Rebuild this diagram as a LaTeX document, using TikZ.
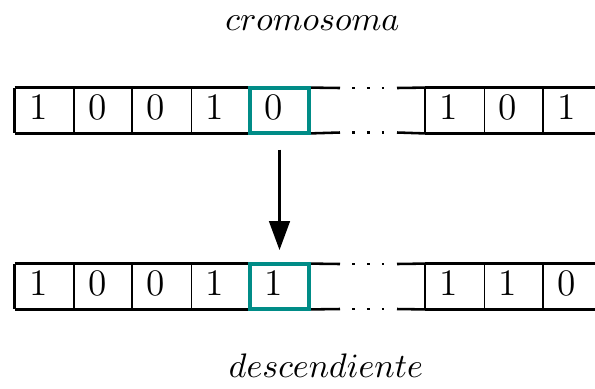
\documentclass[tikz,border=0pt]{standalone}
\usetikzlibrary{arrows.meta}
\definecolor{sel}{RGB}{0,140,135}
\begin{document}
\begin{tikzpicture}[x=0.294pt,y=-0.294pt,
  cell/.style={draw,line width=0.38pt,minimum width=17.2pt,minimum height=13.1pt,inner sep=0pt,
    font=\fontsize{11}{13}\selectfont,text height=7.3pt,text depth=2pt,
    execute at end node={\hspace{3.5pt}}},
  frame/.style={line width=0.75pt},
  gap/.style={line width=0.75pt,dash pattern=on 0.75pt off 3.65pt},
  pick/.style={draw=sel,line width=1.2pt,minimum width=17.2pt,minimum height=13.4pt,inner sep=0pt},
  flow/.style={-{Triangle[width=6pt,length=8.5pt]},line width=0.9pt,shorten <=4.2pt,shorten >=3.4pt},
  caption/.style={font=\normalsize,inner sep=0pt}]
\useasboundingbox (0,0) rectangle (595,388);
\clip (0,0) rectangle (595,388);

% chromosome (top row)
\foreach \n/\x/\v in {t1/44.5/1,t2/103.5/0,t3/162/0,t4/220.5/1,t5/279.5/0,t6/455/1,t7/513.5/0,t8/572.5/1}
  \node[cell] (\n) at (\x,110.5) {\v};
% offspring (bottom row)
\foreach \n/\x/\v in {b1/44.5/1,b2/103.5/0,b3/162/0,b4/220.5/1,b5/279.5/1,b6/455/1,b7/513.5/1,b8/572.5/0}
  \node[cell] (\n) at (\x,286.5) {\v};

% ends of the solid border segments around the gap
\coordinate (ta) at (340,88);   \coordinate (tb) at (397,88);
\coordinate (tc) at (340,132.5);\coordinate (td) at (397,132.5);
\coordinate (ba) at (340,264);  \coordinate (bb) at (397,264);
\coordinate (bc) at (340,309);  \coordinate (bd) at (397,309);
\coordinate (tg1) at (352,88);   \coordinate (tg2) at (386,88);
\coordinate (tg3) at (352,132.5);\coordinate (tg4) at (386,132.5);
\coordinate (bg1) at (352,264);  \coordinate (bg2) at (386,264);
\coordinate (bg3) at (352,309);  \coordinate (bg4) at (386,309);

% heavy borders of both rows
\foreach \r in {t,b}{
  \draw[frame] (\r1.north west) -- (\r5.north east);
  \draw[frame] (\r1.south west) -- (\r5.south east);
  \draw[frame] (\r6.north west) -- (\r8.north east);
  \draw[frame] (\r6.south west) -- (\r8.south east);
  \foreach \k in {1,3,5,6}
    \draw[frame] (\r\k.north west) -- (\r\k.south west);
  \draw[frame] (\r8.north east) -- (\r8.south east);
}
\draw[frame] (t5.north east) -- (ta);  \draw[frame] (tb) -- (t6.north west);
\draw[frame] (t5.south east) -- (tc);  \draw[frame] (td) -- (t6.south west);
\draw[frame] (b5.north east) -- (ba);  \draw[frame] (bb) -- (b6.north west);
\draw[frame] (b5.south east) -- (bc);  \draw[frame] (bd) -- (b6.south west);
\draw[gap] (tg1) -- (tg2);  \draw[gap] (tg3) -- (tg4);
\draw[gap] (bg1) -- (bg2);  \draw[gap] (bg3) -- (bg4);

% mutated gene
\node[pick] (s1) at (t5.center) {};
\node[pick] (s2) at (b5.center) {};
\draw[flow] (s1.south) -- (s2.north);

% captions
\node[caption] (top) at (312.5,23) {$cromosoma$};
\node[caption] (bot) at (326,366) {$descendiente$};
\end{tikzpicture}
\end{document}
